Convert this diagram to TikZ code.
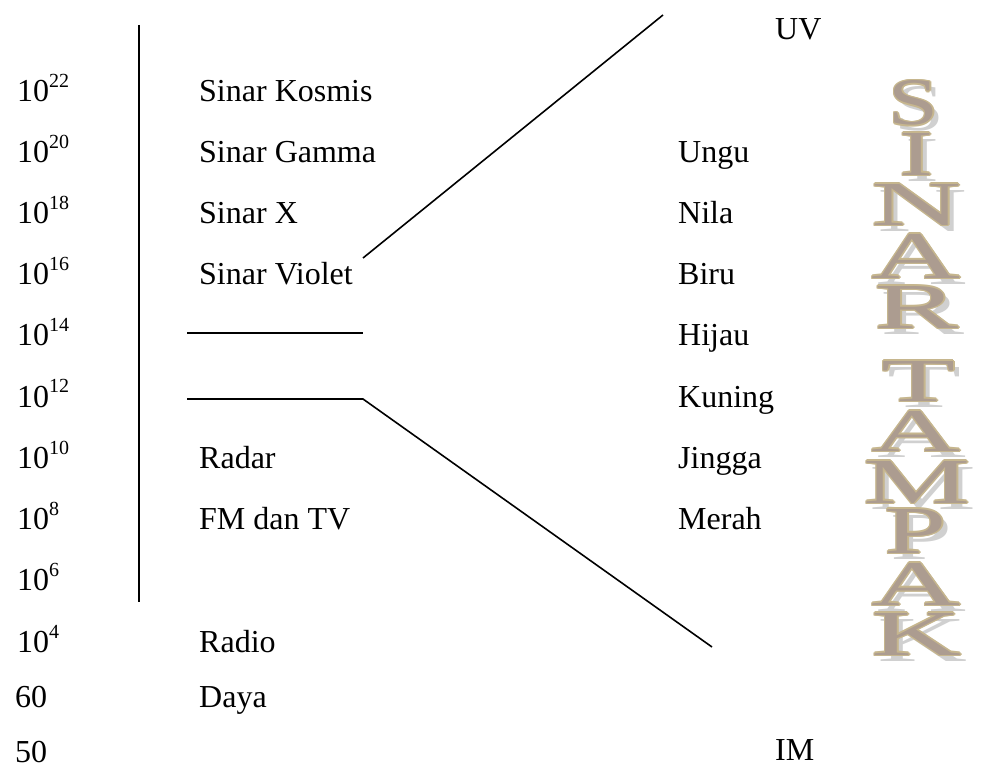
\documentclass[tikz,border=0pt]{standalone}
\usepackage{fontspec}
\setmainfont{Liberation Serif}
\usepackage{graphicx}
\definecolor{watan}{HTML}{C6B68E}
\definecolor{wafill}{HTML}{AC9C90}
\definecolor{washadow}{HTML}{D0D0D0}
\newcommand{\supx}[1]{\raisebox{14pt}{\fontsize{20}{20}\selectfont #1}}
% name, cx, ybottom, width, height, letter
\newcommand{\waletter}[6]{%
  \node[washad] (#1s) at (#2+6,#3+6) {\resizebox{#4pt}{#5pt}{#6}};
  \foreach \dx/\dy in {-1.5/0,1.5/0,0/-1.5,0/1.5,-1.05/-1.05,1.05/-1.05,-1.05/1.05,1.05/1.05}
    {\node[waedge] at (#2+\dx,#3+\dy) {\resizebox{#4pt}{#5pt}{#6}};}
  \node[wafil] (#1) at (#2,#3) {\resizebox{#4pt}{#5pt}{#6}};
}
\begin{document}
\begin{tikzpicture}[x=1pt,y=-1pt,
  txt/.style={anchor=base west,inner sep=0pt,font=\fontsize{32}{38}\selectfont},
  conn/.style={line width=1.6pt,black},
  axis/.style={line width=2pt,black},
  wabase/.style={anchor=south,inner sep=0pt,font=\fontsize{68}{68}\selectfont},
  washad/.style={wabase,text=washadow},
  waedge/.style={wabase,text=watan},
  wafil/.style={wabase,text=wafill}]
\useasboundingbox (0,0) rectangle (986,767);

% left column: frequencies
\node[txt] (f22) at (17,102) {10\supx{22}};
\node[txt] (f20) at (17,163) {10\supx{20}};
\node[txt] (f18) at (17,224) {10\supx{18}};
\node[txt] (f16) at (17,285) {10\supx{16}};
\node[txt] (f14) at (17,346) {10\supx{14}};
\node[txt] (f12) at (17,407) {10\supx{12}};
\node[txt] (f10) at (17,468) {10\supx{10}};
\node[txt] (f8)  at (17,529) {10\supx{8}};
\node[txt] (f6)  at (17,590) {10\supx{6}};
\node[txt] (f4)  at (17,652) {10\supx{4}};
\node[txt] (f60) at (15,707) {60};
\node[txt] (f50) at (15,762) {50};

% middle column
\node[txt] (kos) at (199,102) {Sinar Kosmis};
\node[txt] (gam) at (199,163) {Sinar Gamma};
\node[txt] (sx)  at (199,224) {Sinar X};
\node[txt] (vio) at (199,285) {Sinar Violet};
\node[txt] (rad) at (199,468) {Radar};
\node[txt] (fm)  at (199,529) {FM dan TV};
\node[txt] (rdo) at (199,652) {Radio};
\node[txt] (day) at (199,707) {Daya};

% right column
\node[txt] (uv)  at (775,40)  {UV};
\node[txt] (ung) at (678,163) {Ungu};
\node[txt] (nil) at (678,224) {Nila};
\node[txt] (bir) at (678,285) {Biru};
\node[txt] (hij) at (678,346) {Hijau};
\node[txt] (kun) at (678,407) {Kuning};
\node[txt] (jin) at (678,468) {Jingga};
\node[txt] (mer) at (678,529) {Merah};
\node[txt] (im)  at (775,760) {IM};

% lines
\coordinate (vtop) at (138.5,25);
\coordinate (vbot) at (138.5,602);
\draw[axis] (vtop) -- (vbot);
\coordinate (uvA) at (363,258);
\coordinate (uvB) at (663,15);
\draw[conn] (uvA) -- (uvB);
\coordinate (h1a) at (187,333);
\coordinate (h1b) at (363,333);
\draw[conn] (h1a) -- (h1b);
\coordinate (h2a) at (187,399);
\coordinate (h2b) at (363,399);
\coordinate (imB) at (712,647);
\draw[conn] (h2a) -- (h2b) -- (imB);

% WordArt SINAR TAMPAK
\waletter{w1}{913.5}{125.5}{50}{44}{S}
\waletter{w2}{916.5}{175.5}{34}{42}{I}
\waletter{w3}{916.5}{225.5}{90}{41}{N}
\waletter{w4}{916}{278.5}{89}{44}{A}
\waletter{w5}{916.5}{328.5}{84}{42}{R}
\waletter{w6}{918.5}{401.5}{74}{40}{T}
\waletter{w7}{916}{451.5}{89}{40}{A}
\waletter{w8}{917}{503.5}{107}{42}{M}
\waletter{w9}{915.5}{553.5}{62}{44}{P}
\waletter{w10}{916}{605.5}{89}{42}{A}
\waletter{w11}{916.5}{655.5}{90}{42}{K}
\end{tikzpicture}
\end{document}
